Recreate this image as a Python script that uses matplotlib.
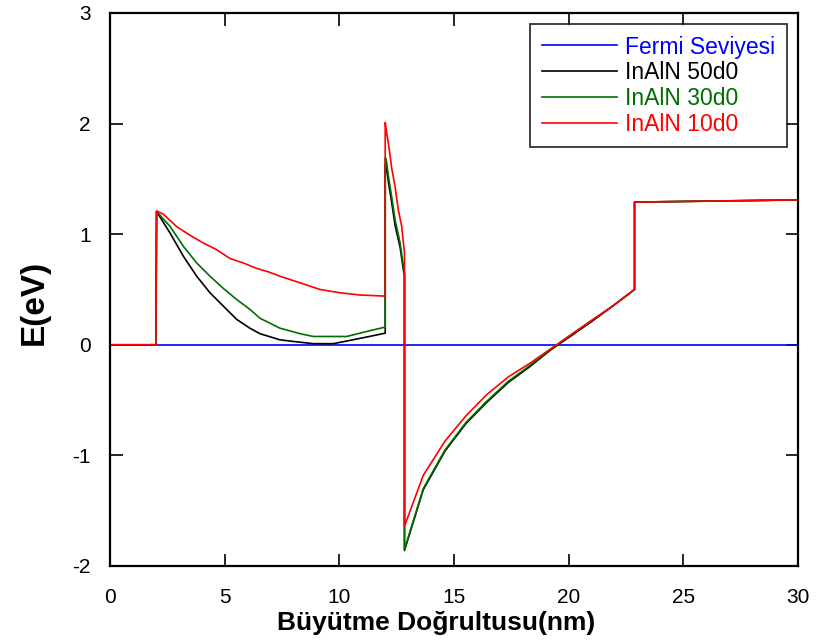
import numpy as np
import matplotlib
matplotlib.use("Agg")
import matplotlib.pyplot as plt

plt.rcParams['font.family'] = ['Liberation Sans', 'DejaVu Sans']
plt.rcParams['axes.unicode_minus'] = False

# Fermi level
fermi_x = [0, 30]
fermi_y = [0, 0]

# InAlN 50d0 (black)
x_50 = [0, 2, 2.03, 2.62, 3.2, 3.78, 4.36, 4.94, 5.52, 6.1, 6.54, 7.41, 8.0, 8.87, 9.74,
        10.47, 11.19, 12,
        12, 12.04, 12.14, 12.28, 12.43, 12.65, 12.79, 12.84, 12.84,
        13.66, 14.61, 15.53, 16.43, 17.37, 18.29, 19.19, 20.1, 21.0, 21.92, 22.87,
        22.87, 30]
y_50 = [0, 0, 1.205, 1.01, 0.80, 0.62, 0.47, 0.35, 0.23, 0.15, 0.10, 0.045, 0.03, 0.01, 0.01,
        0.04, 0.07, 0.105,
        1.63, 1.62, 1.47, 1.29, 1.08, 0.88, 0.68, 0.62, -1.86,
        -1.31, -0.96, -0.71, -0.52, -0.34, -0.20, -0.05, 0.08, 0.21, 0.35, 0.50,
        1.29, 1.31]

# InAlN 30d0 (green)
x_30 = [0, 2, 2.03, 2.62, 3.2, 3.78, 4.36, 4.94, 5.52, 6.1, 6.54, 7.41, 8.29, 8.87, 10.32,
        11.19, 12,
        12, 12.04, 12.14, 12.28, 12.43, 12.65, 12.79, 12.84, 12.84,
        13.66, 14.61, 15.53, 16.43, 17.37, 18.29, 19.19, 20.1, 21.0, 21.92, 22.87,
        22.87, 30]
y_30 = [0, 0, 1.205, 1.07, 0.89, 0.74, 0.62, 0.51, 0.41, 0.32, 0.24, 0.15, 0.10, 0.075, 0.075,
        0.12, 0.16,
        1.69, 1.68, 1.52, 1.34, 1.13, 0.92, 0.71, 0.65, -1.85,
        -1.30, -0.95, -0.70, -0.51, -0.33, -0.19, -0.045, 0.09, 0.22, 0.35, 0.50,
        1.29, 1.31]

# InAlN 10d0 (red)
x_10 = [0, 2, 2.03, 2.33, 2.9, 3.49, 4.07, 4.65, 5.23, 5.81, 6.4, 6.9, 7.41, 8.29, 9.16,
        10.03, 10.9, 12,
        12, 12.07, 12.18, 12.28, 12.43, 12.57, 12.72, 12.84, 12.84,
        13.66, 14.61, 15.53, 16.43, 17.37, 18.29, 19.19, 20.1, 21.0, 21.92, 22.87,
        22.87, 30]
y_10 = [0, 0, 1.21, 1.18, 1.07, 0.99, 0.92, 0.86, 0.78, 0.74, 0.69, 0.66, 0.62, 0.56, 0.50,
        0.47, 0.45, 0.44,
        2.01, 1.91, 1.76, 1.60, 1.43, 1.22, 1.07, 0.83, -1.64,
        -1.18, -0.87, -0.64, -0.45, -0.29, -0.17, -0.04, 0.09, 0.22, 0.35, 0.50,
        1.29, 1.31]

x_ticks = [0, 5, 10, 15, 20, 25, 30]
y_ticks = [-2, -1, 0, 1, 2, 3]

fig = plt.figure(figsize=(8.16, 6.43), dpi=100)
ax = fig.add_axes([0.1348, 0.1198, 0.8432, 0.86])

ax.plot(fermi_x, fermi_y, color='#0000ff', lw=1.2, label='Fermi Seviyesi')
ax.plot(x_50, y_50, color='black', lw=1.2, label='InAlN 50d0')
ax.plot(x_30, y_30, color='#006e00', lw=1.2, label='InAlN 30d0')
ax.plot(x_10, y_10, color='#ff0000', lw=1.2, label='InAlN 10d0')

ax.set_xlim(0, 30)
ax.set_ylim(-2, 3)
ax.set_xticks(x_ticks)
ax.set_yticks(y_ticks)
ax.set_xticklabels([str(t) for t in x_ticks])
ax.set_yticklabels([str(t) for t in y_ticks])
ax.tick_params(direction='in', length=9, width=1.2, top=True, right=True, labelsize=15)
ax.tick_params(axis='x', pad=16)
ax.tick_params(axis='y', pad=14)
for s in ax.spines.values():
    s.set_linewidth(1.6)

ax.set_xlabel('Büyütme Doğrultusu(nm)', fontsize=19, fontweight='bold', labelpad=3)
ax.set_ylabel('E(eV)', fontsize=24, fontweight='bold', labelpad=16)
ax.xaxis.label.set_x(0.474)
ax.yaxis.label.set_y(0.476)

leg = ax.legend(loc='upper right', bbox_to_anchor=(0.984, 0.980), fontsize=16.5,
                frameon=True, fancybox=False, edgecolor='black', handlelength=3.3,
                borderpad=0.5, labelspacing=0.12, handletextpad=0.35,
                borderaxespad=0)
leg.get_frame().set_linewidth(1.3)
for txt, ln in zip(leg.get_texts(), leg.get_lines()):
    txt.set_color(ln.get_color())

fig.savefig('out.png', dpi=100)
